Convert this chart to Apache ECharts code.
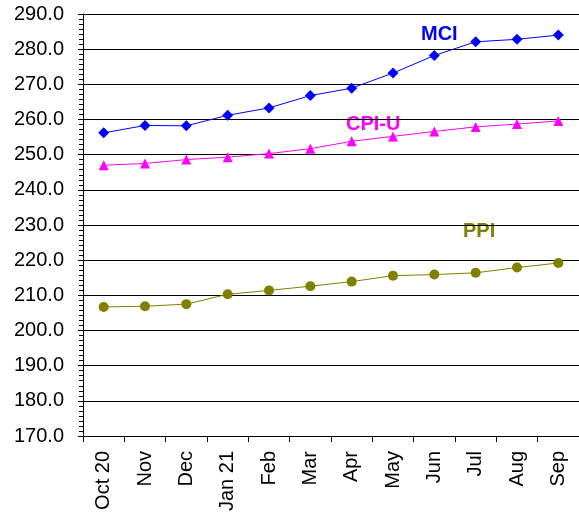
<!DOCTYPE html>
<html>
<head>
<meta charset="utf-8">
<script src="https://cdn.jsdelivr.net/npm/echarts@6/dist/echarts.min.js"></script>
<style>
html,body{margin:0;padding:0;background:#fff;}
#chart{width:579px;height:516px;}
</style>
</head>
<body>
<div id="chart"></div>
<script>
const categories = ["Oct 20","Nov","Dec","Jan 21","Feb","Mar","Apr","May","Jun","Jul","Aug","Sep"];
const mciValues  = [256.2, 258.3, 258.2, 261.2, 263.3, 266.8, 268.9, 273.2, 278.2, 282.1, 282.8, 284.0];
const cpiuValues = [247.0, 247.5, 248.6, 249.3, 250.3, 251.7, 253.8, 255.2, 256.6, 257.9, 258.7, 259.6];
const ppiValues  = [206.7, 206.9, 207.5, 210.3, 211.4, 212.6, 213.9, 215.6, 215.9, 216.4, 217.9, 219.2];
const yMin = 170, yMax = 290, yStep = 10;

const FONT = "'Liberation Sans', Arial, sans-serif";
const chart = echarts.init(document.getElementById('chart'), null, {renderer: 'canvas'});

chart.setOption({
  animation: false,
  backgroundColor: '#fff',
  grid: {left: 83, top: 14, width: 497, height: 422, containLabel: false},
  xAxis: {
    type: 'category',
    data: categories,
    boundaryGap: true,
    axisLine: {lineStyle: {color: '#000', width: 1}},
    axisTick: {show: true, length: 6, lineStyle: {color: '#000'}},
    axisLabel: {rotate: 90, color: '#000', fontFamily: FONT, fontSize: 20, margin: 15, interval: 0},
    splitLine: {show: false}
  },
  yAxis: {
    type: 'value',
    min: yMin, max: yMax, interval: yStep,
    axisLine: {show: true, lineStyle: {color: '#000', width: 1}},
    axisTick: {show: true, length: 5, lineStyle: {color: '#000'}},
    minorTick: {show: true, splitNumber: 7, length: 4, lineStyle: {color: '#000'}},
    axisLabel: {color: '#000', fontFamily: FONT, fontSize: 20, margin: 19,
      formatter: v => v.toFixed(1)},
    splitLine: {show: true, lineStyle: {color: '#000', width: 1}}
  },
  series: [
    {name: 'MCI', type: 'line', data: mciValues, symbol: 'diamond', symbolSize: 11,
     itemStyle: {color: '#0000FF'}, lineStyle: {color: '#0000FF', width: 1}},
    {name: 'CPI-U', type: 'line', data: cpiuValues, symbol: 'triangle', symbolSize: 10,
     itemStyle: {color: '#FF00FF'}, lineStyle: {color: '#FF00FF', width: 1}},
    {name: 'PPI', type: 'line', data: ppiValues, symbol: 'circle', symbolSize: 10,
     itemStyle: {color: '#808000'}, lineStyle: {color: '#808000', width: 1}}
  ],
  graphic: [
    {type: 'text', left: 421, top: 24, style: {text: 'MCI', fill: '#0000FF', font: 'bold 20px ' + FONT}},
    {type: 'text', left: 346, top: 114, style: {text: 'CPI-U', fill: '#FF00FF', font: 'bold 20px ' + FONT}},
    {type: 'text', left: 463, top: 221, style: {text: 'PPI', fill: '#808000', font: 'bold 20px ' + FONT}}
  ]
});
</script>
</body>
</html>
